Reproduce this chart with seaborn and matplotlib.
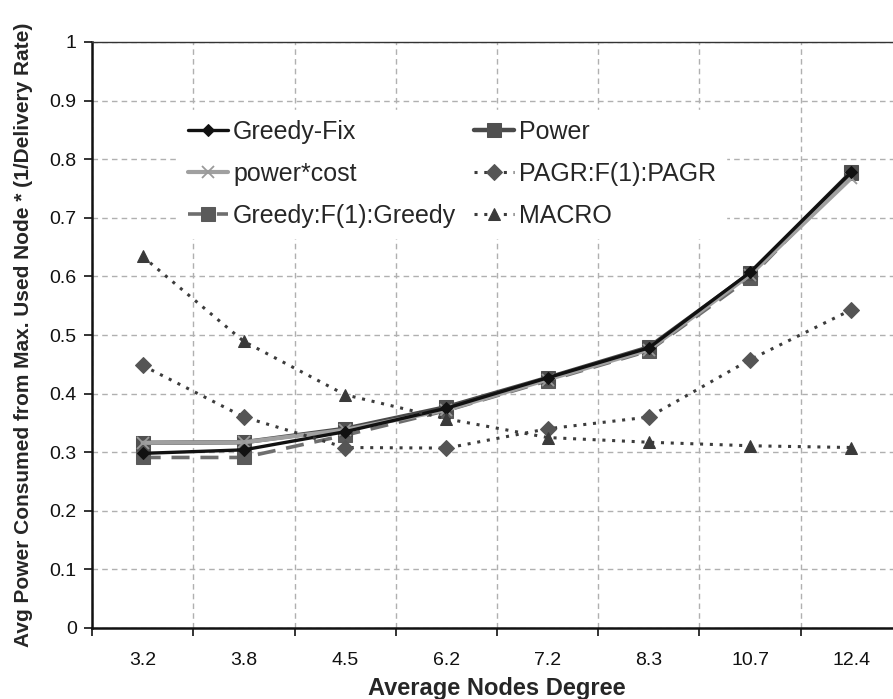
import numpy as np
import pandas as pd
import matplotlib
matplotlib.use("Agg")
import matplotlib.pyplot as plt
import seaborn as sns
from matplotlib.ticker import FixedLocator

degrees = ["3.2", "3.8", "4.5", "6.2", "7.2", "8.3", "10.7", "12.4"]
greedy_fix = [0.298, 0.304, 0.335, 0.375, 0.427, 0.478, 0.607, 0.778]
power = [0.316, 0.317, 0.340, 0.377, 0.427, 0.479, 0.605, 0.778]
power_cost = [0.316, 0.317, 0.338, 0.372, 0.424, 0.475, 0.603, 0.768]
greedy_f1 = [0.291, 0.291, 0.329, 0.371, 0.422, 0.473, 0.598, 0.776]
pagr = [0.448, 0.360, 0.308, 0.307, 0.340, 0.360, 0.458, 0.543]
macro = [0.634, 0.489, 0.398, 0.357, 0.325, 0.317, 0.311, 0.308]

sns.set_theme(style="white")
plt.rcParams['font.family'] = ['Liberation Sans', 'DejaVu Sans']

fig = plt.figure(figsize=(8.93, 6.99), dpi=100)
ax = fig.add_axes([92 / 893, 71 / 699, 810 / 893, 586 / 699])

xs = np.arange(len(degrees))
series = [
    ("Greedy:F(1):Greedy", greedy_f1, dict(color="#6e6e6e", lw=2.6, ls=(0, (5, 3)), marker="s", ms=10, mec="#5a5a5a", mfc="#5a5a5a")),
    ("Power", power, dict(color="#4a4a4a", lw=3.2, ls="-", marker="s", ms=10, mec="#505050", mfc="#505050")),
    ("power*cost", power_cost, dict(color="#a0a0a0", lw=3.0, ls="-", marker="x", ms=9, mew=1.3, mec="#9a9a9a")),
    ("Greedy-Fix", greedy_fix, dict(color="#111111", lw=2.4, ls="-", marker="D", ms=6, mec="#111111", mfc="#111111")),
    ("PAGR:F(1):PAGR", pagr, dict(color="#3c3c3c", lw=2.2, ls=(0, (1, 2.2)), marker="D", ms=8, mec="#555555", mfc="#555555")),
    ("MACRO", macro, dict(color="#3c3c3c", lw=2.2, ls=(0, (1, 2.2)), marker="^", ms=9, mec="#3a3a3a", mfc="#3a3a3a")),
]

for name, vals, kw in series:
    df = pd.DataFrame({"x": xs, "y": vals})
    sns.lineplot(data=df, x="x", y="y", ax=ax, sort=False, label=name,
                 **{k: v for k, v in kw.items() if k != "ls"}, linestyle=kw["ls"])

h, l = ax.get_legend_handles_labels()
hm = dict(zip(l, h))
order = ["Greedy-Fix", "power*cost", "Greedy:F(1):Greedy", "Power", "PAGR:F(1):PAGR", "MACRO"]
leg = ax.legend([hm[o] for o in order], order, ncol=2, loc="upper left",
                bbox_to_anchor=((178 - 92) / 810, (628 - 110) / 586), frameon=True, fontsize=18,
                handlelength=1.6, handletextpad=0.2, columnspacing=0.7,
                labelspacing=0.72, borderpad=0.4, borderaxespad=0)
leg.get_frame().set_facecolor("white")
leg.get_frame().set_edgecolor("white")
leg.get_frame().set_alpha(1)
leg.get_frame().set_boxstyle("square", pad=0)

ax.set_xlim(-0.5, 7.5)
ax.set_ylim(0, 1)
ax.set_xticks(xs)
ax.set_xticklabels(degrees, fontsize=14)
ax.xaxis.set_minor_locator(FixedLocator(np.arange(-0.5, 8, 1)))
ax.tick_params(axis="x", which="major", length=0, pad=17, colors="#111111")
ax.tick_params(axis="x", which="minor", length=6, width=1.2, direction="out", color="#111111", bottom=True)
ax.set_yticks(np.arange(0, 1.01, 0.1))
ax.set_yticklabels(["0"] + [f"{v:.1f}" for v in np.arange(0.1, 0.95, 0.1)] + ["1"], fontsize=14)
ax.tick_params(axis="y", which="major", length=6, width=1.2, direction="out", color="#111111", left=True, colors="#111111", pad=5)

ax.grid(False)
ax.yaxis.grid(True, which="major", ls=(0, (4, 3)), color="#b0b0b0", lw=1)
ax.xaxis.grid(True, which="minor", ls=(0, (4, 3)), color="#b0b0b0", lw=1)
ax.set_axisbelow(True)

for s in ["left", "bottom"]:
    ax.spines[s].set_color("#111111")
    ax.spines[s].set_linewidth(1.8)
ax.spines["top"].set_color("#333333")
ax.spines["top"].set_linewidth(1.0)
ax.spines["right"].set_visible(False)

ax.set_xlabel("Average Nodes Degree", fontsize=17, fontweight="bold", labelpad=6)
ax.set_ylabel("Avg Power Consumed from Max. Used Node * (1/Delivery Rate)", fontsize=15,
              fontweight="bold", labelpad=12)

fig.savefig("out.png", dpi=100)
